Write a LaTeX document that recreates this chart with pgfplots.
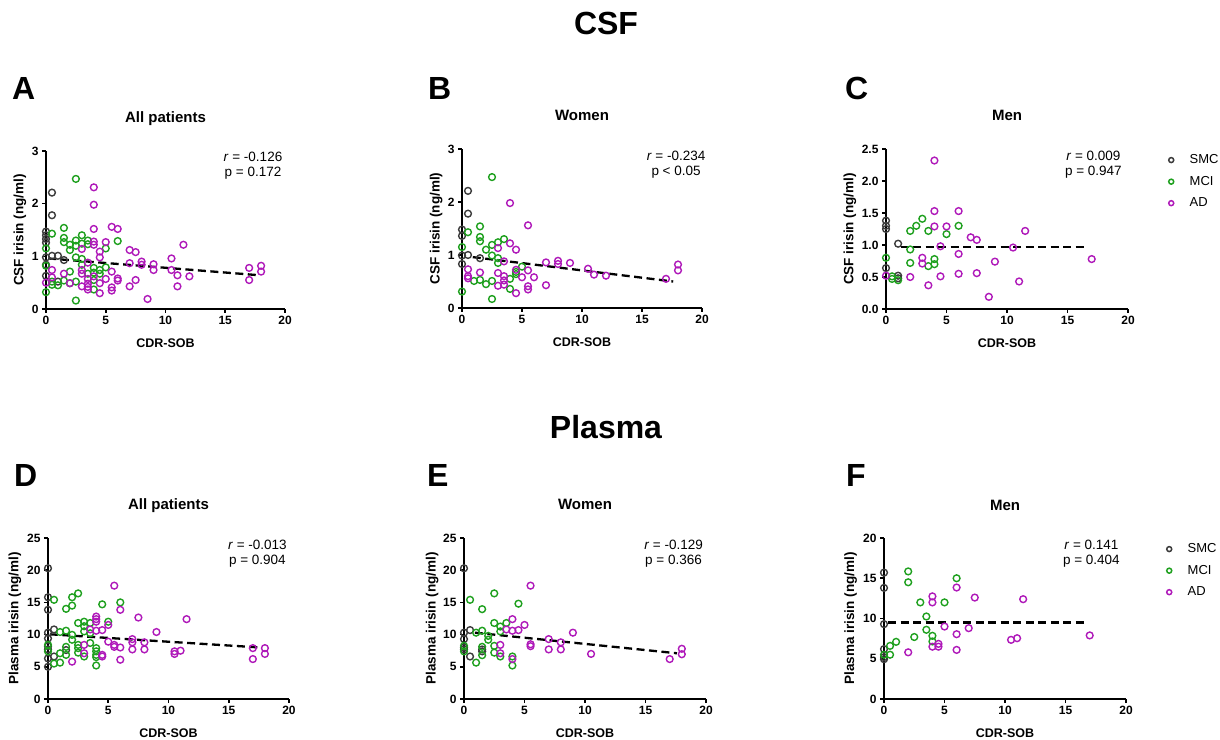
\documentclass[border=0pt]{standalone}
\usepackage{fontspec}
\setmainfont{Liberation Sans}
\usepackage{pgfplots}
\pgfplotsset{compat=1.18}

\definecolor{smc}{RGB}{60,60,60}
\definecolor{mci}{RGB}{30,160,30}
\definecolor{ad}{RGB}{175,25,185}

\newcommand{\fs}[1]{\fontsize{#1}{#1}\selectfont}

\tikzset{stat/.style={align=center, font=\fontsize{13.5}{15}\selectfont, inner sep=0pt}}

\pgfplotsset{
  panel/.style={
    scale only axis, width=241pt, height=159pt,
    xmin=0, xmax=20, ymin=0,
    axis lines=left, axis line style={-, line width=1.9pt},
    clip=false,
    tick align=outside, major tick length=4pt,
    tick style={line width=1.6pt, black},
    xtick={0,5,...,20},
    /pgf/number format/assume math mode=true,
    ticklabel style={font=\fs{12}\bfseries},
    xlabel={CDR-SOB},
    xlabel style={at={(axis description cs:0.5,0)}, anchor=center, yshift=-34pt, font=\fs{12.5}\bfseries},
    ylabel style={anchor=center, font=\fs{13.5}\bfseries},
    title style={at={(axis description cs:0.5,1)}, anchor=base, yshift=22pt, font=\fs{15}\bfseries},
    legend style={draw=none, fill=none, anchor=north west, font=\fs{13},
      row sep=7pt, column sep=14pt, inner xsep=3pt, inner ysep=2pt},
    legend cell align=left,
    legend image code/.code={\draw[##1, mark size=2.5pt, line width=1.5pt] plot coordinates {(0pt,0pt)};},
  },
  pt smc/.style={only marks, mark=o, mark size=3.4pt, line width=1.4pt, color=smc},
  pt mci/.style={only marks, mark=o, mark size=3.4pt, line width=1.4pt, color=mci},
  pt ad/.style={only marks, mark=o, mark size=3.4pt, line width=1.4pt, color=ad},
  regline/.style={black, line width=2.3pt, dash pattern=on 8pt off 4.5pt, forget plot},
}

\begin{document}
\begin{tikzpicture}[x=1pt, y=1pt]
\useasboundingbox (0,0) rectangle (1220,739);

% ---------------- A: CSF, all patients
\begin{axis}[panel, at={(46pt,430pt)}, anchor=south west, height=158pt, width=239pt,
  ymax=3, ytick={0,1,2,3}, ylabel={CSF irisin (ng/ml)},
  ylabel style={at={(axis description cs:-0.109,0.5)}}, title={All patients}]
\addplot[pt smc] coordinates {(0,1.47)(0,1.40)(0,1.33)(0,1.26)(0,0.98)(0,0.84)(0,0.63)(0.5,2.21)(0.5,1.78)(0.5,1.01)(1,1.01)(1,0.52)(1.5,0.93)};
\addplot[pt mci] coordinates {(2.5,2.47)(0.5,1.43)(1.5,1.54)(1.5,1.35)(1.5,1.27)(2,1.22)(2,1.12)(2.5,1.30)(2.5,1.20)(3,1.40)(3,1.24)(3.5,1.30)(3.5,1.23)(0,1.15)(0,0.82)(0,0.32)(0.5,0.52)(0.5,0.46)(1,0.45)(1.5,0.54)(2,0.71)(2,0.49)(2.5,0.98)(2.5,0.52)(2.5,0.16)(3,0.95)(3,0.84)(3.5,0.67)(4,0.78)(4,0.69)(4,0.55)(4,0.37)(4.5,0.67)(4.5,0.74)(5,1.15)(5,0.79)(6,1.29)};
\addplot[pt ad] coordinates {(4,2.31)(4,1.98)(4,1.52)(4,1.28)(4,1.22)(5.5,1.56)(6,1.52)(5,1.27)(4.5,1.09)(4.5,0.98)(3,1.14)(3.5,0.88)(0.5,0.74)(0.5,0.60)(0,0.50)(1.5,0.67)(2,0.49)(3,0.74)(3,0.67)(3,0.43)(3.5,0.57)(3.5,0.48)(3.5,0.42)(3.5,0.37)(4,0.62)(4.5,0.49)(4.5,0.30)(5,0.57)(5.5,0.71)(5.5,0.41)(5.5,0.35)(6,0.58)(6,0.54)(7,1.12)(7.5,1.08)(7,0.87)(7,0.43)(7.5,0.55)(8,0.90)(8,0.84)(8.5,0.19)(9,0.85)(9,0.74)(10.5,0.96)(10.5,0.74)(11,0.64)(11,0.43)(11.5,1.22)(12,0.62)(17,0.78)(17,0.55)(18,0.82)(18,0.71)};
\addplot[regline] coordinates {(0.2,0.96)(17.9,0.64)};
\node[stat] at (axis description cs:0.866,0.908) {\textit{r} = -0.126\\p = 0.172};
\end{axis}

% ---------------- B: CSF, women
\begin{axis}[panel, at={(462pt,431pt)}, anchor=south west, width=240pt,
  ymax=3, ytick={0,1,2,3}, ylabel={CSF irisin (ng/ml)},
  ylabel style={at={(axis description cs:-0.108,0.5)}}, title={Women}]
\addplot[pt smc] coordinates {(0.5,2.21)(0.5,1.78)(0,1.48)(0,1.36)(0,0.99)(0,0.83)(0.5,1.0)(1.5,0.94)};
\addplot[pt mci] coordinates {(2.5,2.47)(0.5,1.43)(1.5,1.54)(1.5,1.34)(1.5,1.26)(2,1.10)(2.5,1.19)(3,1.24)(3.5,1.30)(2.5,0.99)(3,0.94)(3,0.85)(0,1.15)(0,0.31)(1,0.51)(1.5,0.53)(2,0.45)(2.5,0.51)(2.5,0.17)(4,0.55)(4,0.36)(4.5,0.68)(4.5,0.64)(5,0.78)};
\addplot[pt ad] coordinates {(4,1.98)(5.5,1.56)(4,1.22)(3,1.13)(4.5,1.10)(3.5,0.88)(0.5,0.73)(0.5,0.60)(0.5,0.56)(1.5,0.67)(3,0.66)(3,0.42)(3.5,0.60)(3.5,0.52)(3.5,0.44)(4.5,0.72)(4.5,0.28)(5,0.58)(5.5,0.71)(5.5,0.41)(5.5,0.35)(6,0.58)(7,0.86)(7,0.43)(8,0.89)(8,0.83)(9,0.85)(10.5,0.74)(11,0.63)(12,0.61)(17,0.55)(18,0.82)(18,0.71)};
\addplot[regline] coordinates {(0.9,0.96)(17.6,0.50)};
\node[stat] at (axis description cs:0.892,0.903) {\textit{r} = -0.234\\p < 0.05};
\end{axis}

% ---------------- C: CSF, men
\begin{axis}[panel, at={(886pt,430pt)}, anchor=south west, width=242pt, height=160pt,
  ymax=2.5, ytick={0,0.5,...,2.5},
  yticklabel style={/pgf/number format/.cd, fixed, fixed zerofill, precision=1},
  ylabel={CSF irisin (ng/ml)},
  ylabel style={at={(axis description cs:-0.149,0.5)}}, title={Men},
  legend style={at={(axis description cs:1.155,0.99)}}]
\addplot[pt smc] coordinates {(0,1.38)(0,1.30)(0,1.25)(0,0.64)(1,1.02)(1,0.52)(1,0.48)};
\addlegendentry{SMC}
\addplot[pt mci] coordinates {(0,0.80)(0.5,0.51)(0.5,0.47)(1,0.45)(2,1.22)(2,0.93)(2,0.72)(2.5,1.30)(3,1.41)(3.5,1.22)(3.5,0.67)(4,0.78)(4,0.70)(5,1.17)(6,1.30)};
\addlegendentry{MCI}
\addplot[pt ad] coordinates {(0,0.52)(4,2.32)(4,1.53)(4,1.29)(6,1.53)(5,1.29)(3,0.80)(3,0.71)(2,0.50)(3.5,0.37)(4.5,0.98)(4.5,0.51)(6,0.86)(6,0.55)(7,1.12)(7.5,1.08)(7.5,0.56)(8.5,0.19)(9,0.74)(10.5,0.96)(11,0.43)(11.5,1.22)(17,0.78)};
\addlegendentry{AD}
\addplot[regline] coordinates {(1.2,0.97)(16.5,0.97)};
\node[stat] at (axis description cs:0.857,0.903) {\textit{r} = 0.009\\p = 0.947};
\end{axis}

% ---------------- D: plasma, all patients
\begin{axis}[panel, at={(48pt,40pt)}, anchor=south west, height=161pt,
  ymax=25, ytick={0,5,...,25}, ylabel={Plasma irisin (ng/ml)},
  ylabel style={at={(axis description cs:-0.137,0.5)}}, title={All patients}]
\addplot[pt smc] coordinates {(0,20.3)(0,15.8)(0,13.85)(0,10.3)(0,9.4)(0,8.2)(0,7.7)(0,6.3)(0,5.0)(0.5,10.8)(0.5,6.6)(1.5,7.6)};
\addplot[pt mci] coordinates {(0.5,15.4)(1.5,14.0)(2,15.8)(2,14.5)(2.5,16.4)(4.5,14.7)(6,15.0)(1,10.4)(1.5,10.6)(2,9.96)(2,9.2)(2.5,11.8)(3,12.0)(3,11.3)(3,10.5)(3.5,11.8)(3.5,10.2)(3.5,8.7)(5,12.0)(0,8.4)(0,7.4)(0.5,5.5)(1,5.65)(1,7.1)(1.5,8.1)(1.5,6.85)(2.5,8.4)(2.5,7.9)(2.5,7.2)(3,6.6)(4,7.9)(4,7.4)(4,6.85)(4,6.5)(4,5.2)};
\addplot[pt ad] coordinates {(5.5,17.6)(6,13.85)(4,12.8)(4,12.4)(4,12.0)(7.5,12.65)(11.5,12.4)(3.5,10.8)(4,10.6)(4.5,10.7)(5,11.5)(9,10.4)(2,5.8)(3,8.4)(3,7.1)(4.5,6.85)(4.5,6.6)(5,8.9)(5.5,8.4)(5.5,8.1)(6,8.0)(6,6.1)(7,9.3)(7,8.8)(7,7.7)(8,8.8)(8,7.7)(10.5,7.4)(10.5,7.0)(11,7.5)(17,7.9)(17,6.2)(18,7.9)(18,7.0)};
\addplot[regline] coordinates {(0.15,10.05)(17.6,8.0)};
\node[stat] at (axis description cs:0.869,0.90) {\textit{r} = -0.013\\p = 0.904};
\end{axis}

% ---------------- E: plasma, women
\begin{axis}[panel, at={(464pt,40pt)}, anchor=south west, width=242pt, height=161pt,
  ymax=25, ytick={0,5,...,25}, ylabel={Plasma irisin (ng/ml)},
  ylabel style={at={(axis description cs:-0.132,0.5)}}, title={Women}]
\addplot[pt smc] coordinates {(0,20.3)(0,10.3)(0,9.3)(0,8.0)(0,7.7)(0.5,10.7)(0.5,6.6)(1.5,7.7)(1.5,7.4)};
\addplot[pt mci] coordinates {(0.5,15.4)(1.5,13.95)(2.5,16.4)(4.5,14.8)(1,10.3)(1.5,10.6)(2,9.8)(2,9.2)(2.5,11.8)(3,11.25)(3,10.5)(3.5,11.8)(0,8.25)(0,7.4)(1,5.65)(1.5,8.1)(1.5,6.8)(2.5,8.25)(2.5,7.2)(3,6.6)(4,6.6)(4,5.2)};
\addplot[pt ad] coordinates {(5.5,17.6)(4,12.4)(3.5,10.8)(4,10.6)(4.5,10.7)(5,11.5)(9,10.3)(3,8.4)(3,7.1)(4,6.2)(5.5,8.5)(5.5,8.2)(7,9.3)(7,7.7)(8,8.8)(8,7.7)(10.5,7.0)(17,6.2)(18,7.8)(18,6.95)};
\addplot[regline] coordinates {(0.9,10.3)(17.6,7.1)};
\node[stat] at (axis description cs:0.866,0.90) {\textit{r} = -0.129\\p = 0.366};
\end{axis}

% ---------------- F: plasma, men
\begin{axis}[panel, at={(884pt,40pt)}, anchor=south west, width=242pt, height=161pt,
  ymax=20, ytick={0,5,...,20}, ylabel={Plasma irisin (ng/ml)},
  ylabel style={at={(axis description cs:-0.138,0.5)}}, title={Men},
  legend style={at={(axis description cs:1.155,0.99)}}]
\addplot[pt smc] coordinates {(0,15.7)(0,13.8)(0,9.3)(0,6.2)(0,5.2)(0,4.95)};
\addlegendentry{SMC}
\addplot[pt mci] coordinates {(0,5.5)(0.5,6.6)(0.5,5.5)(1,7.1)(2,15.85)(2,14.5)(2.5,7.7)(3,12.0)(3.5,10.25)(3.5,8.6)(4,7.85)(4,7.15)(5,12.0)(6,15.0)};
\addlegendentry{MCI}
\addplot[pt ad] coordinates {(2,5.8)(4,12.75)(4,12.0)(4,6.5)(4.5,6.85)(4.5,6.5)(5,9.0)(6,13.85)(6,8.05)(6,6.1)(7,8.8)(7.5,12.6)(10.5,7.35)(11,7.55)(11.5,12.4)(17,7.9)};
\addlegendentry{AD}
\addplot[regline] coordinates {(0.35,9.5)(16.55,9.5)};
\node[stat] at (axis description cs:0.857,0.90) {\textit{r} = 0.141\\p = 0.404};
\end{axis}

% ---------------- headings and panel letters
\node[anchor=base, font=\fs{32}\bfseries] at (606,704) {CSF};
\node[anchor=base, font=\fs{32}\bfseries] at (606,300) {Plasma};
\foreach \l/\x/\y in {A/12/639, B/428/639, C/845/639, D/14/252, E/427/252, F/846/252}
  \node[anchor=base west, inner sep=0pt, font=\fs{32}\bfseries] at (\x,\y) {\l};
\end{tikzpicture}
\end{document}
